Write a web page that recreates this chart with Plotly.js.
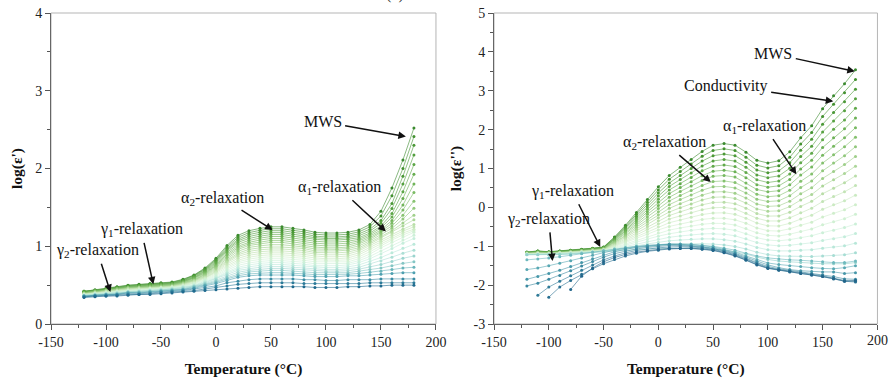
<!DOCTYPE html>
<html>
<head>
<meta charset="utf-8">
<script src="https://cdn.plot.ly/plotly-3.0.1.min.js"></script>
<style>html,body{margin:0;padding:0;background:#fff;}#chart{width:889px;height:379px;}</style>
</head>
<body>
<div id="chart"></div>
<script>
// Temperatures (°C)
const temps = [-120,-110,-100,-90,-80,-70,-60,-50,-40,-30,-20,-10,0,10,20,30,40,50,60,70,80,90,100,110,120,130,140,150,160,170,180];

// Tick labels
const xTickVals = [-150,-100,-50,0,50,100,150,200];
const xTickText = ['-150','-100','-50','0','50','100','150','200'];
const x2TickText = ['-150','-100','-50','0','50','100','150',''];
const x2LastTickLabel = '200';
const yLeftTickVals = [0,1,2,3,4];
const yLeftTickText = ['0','1','2','3','4'];
const yRightTickVals = [-3,-2,-1,0,1,2,3,4,5];
const yRightTickText = ['-3','-2','-1','0','1','2','3','4','5'];

// Left panel: log(eps') per frequency (lowest frequency first)
const L0   = [0.42,0.44,0.46,0.48,0.50,0.51,0.52,0.53,0.54,0.575,0.63,0.72,0.845,1.01,1.14,1.20,1.23,1.25,1.25,1.23,1.21,1.18,1.17,1.17,1.18,1.21,1.28,1.45,1.75,2.11,2.52];
const L0b  = [0.42,0.435,0.455,0.475,0.495,0.505,0.515,0.525,0.535,0.57,0.625,0.71,0.83,0.99,1.115,1.175,1.205,1.225,1.225,1.205,1.185,1.155,1.145,1.145,1.155,1.185,1.25,1.39,1.65,2.0,2.41];
const L1   = [0.42,0.43,0.45,0.47,0.49,0.50,0.51,0.52,0.53,0.56,0.62,0.70,0.82,0.97,1.09,1.15,1.18,1.20,1.20,1.18,1.16,1.13,1.12,1.12,1.13,1.16,1.22,1.33,1.55,1.90,2.30];
const L1b  = [0.415,0.43,0.45,0.465,0.485,0.495,0.505,0.515,0.525,0.555,0.61,0.69,0.805,0.955,1.07,1.125,1.155,1.175,1.175,1.155,1.135,1.11,1.10,1.10,1.11,1.135,1.195,1.295,1.485,1.80,2.175];
const L2   = [0.41,0.43,0.45,0.46,0.48,0.49,0.50,0.51,0.52,0.55,0.60,0.68,0.79,0.94,1.05,1.10,1.13,1.15,1.15,1.13,1.11,1.09,1.08,1.08,1.09,1.11,1.17,1.26,1.42,1.70,2.05];
const L2b  = [0.405,0.425,0.445,0.46,0.475,0.485,0.495,0.505,0.515,0.545,0.595,0.67,0.775,0.92,1.025,1.075,1.105,1.125,1.125,1.105,1.085,1.065,1.055,1.055,1.065,1.09,1.15,1.235,1.375,1.615,1.925];
const L3   = [0.40,0.42,0.44,0.46,0.47,0.48,0.49,0.50,0.51,0.54,0.59,0.66,0.76,0.90,1.00,1.05,1.08,1.10,1.10,1.08,1.06,1.04,1.03,1.03,1.04,1.07,1.13,1.21,1.33,1.53,1.80];
const L3b  = [0.40,0.42,0.435,0.455,0.47,0.475,0.485,0.495,0.505,0.535,0.58,0.65,0.75,0.88,0.98,1.03,1.055,1.075,1.075,1.055,1.035,1.015,1.005,1.005,1.015,1.05,1.11,1.19,1.295,1.465,1.69];
const L4   = [0.40,0.42,0.43,0.45,0.47,0.47,0.48,0.49,0.50,0.53,0.57,0.64,0.74,0.86,0.96,1.01,1.03,1.05,1.05,1.03,1.01,0.99,0.98,0.98,0.99,1.03,1.09,1.17,1.26,1.40,1.58];
const L4b  = [0.395,0.415,0.43,0.445,0.465,0.47,0.475,0.485,0.495,0.525,0.565,0.63,0.725,0.84,0.935,0.985,1.005,1.02,1.02,1.005,0.99,0.965,0.96,0.96,0.97,1.005,1.07,1.15,1.23,1.35,1.49];
const L5   = [0.39,0.41,0.43,0.44,0.46,0.47,0.47,0.48,0.49,0.52,0.56,0.62,0.71,0.82,0.91,0.96,0.98,0.99,0.99,0.98,0.97,0.94,0.94,0.94,0.95,0.98,1.05,1.13,1.20,1.30,1.40];
const L5b  = [0.39,0.405,0.425,0.435,0.455,0.465,0.465,0.475,0.485,0.515,0.555,0.61,0.695,0.805,0.89,0.935,0.955,0.965,0.965,0.955,0.945,0.92,0.915,0.915,0.925,0.96,1.03,1.11,1.18,1.26,1.34];
const L6   = [0.39,0.40,0.42,0.43,0.45,0.46,0.46,0.47,0.48,0.51,0.55,0.60,0.68,0.79,0.87,0.91,0.93,0.94,0.94,0.93,0.92,0.90,0.89,0.89,0.90,0.94,1.01,1.09,1.16,1.22,1.28];
const L6b  = [0.385,0.40,0.415,0.425,0.445,0.455,0.46,0.47,0.48,0.505,0.54,0.595,0.67,0.77,0.845,0.885,0.905,0.915,0.915,0.905,0.895,0.875,0.865,0.865,0.875,0.915,0.985,1.065,1.135,1.195,1.25];
const L7   = [0.38,0.40,0.41,0.42,0.44,0.45,0.46,0.47,0.48,0.50,0.53,0.59,0.66,0.75,0.82,0.86,0.88,0.89,0.89,0.88,0.87,0.85,0.84,0.84,0.85,0.89,0.96,1.04,1.11,1.17,1.22];
const L7b  = [0.38,0.395,0.405,0.42,0.435,0.445,0.455,0.465,0.475,0.495,0.525,0.58,0.645,0.73,0.80,0.835,0.855,0.865,0.865,0.855,0.845,0.825,0.82,0.82,0.825,0.865,0.93,1.01,1.08,1.145,1.20];
const L8   = [0.38,0.39,0.40,0.42,0.43,0.44,0.45,0.46,0.47,0.49,0.52,0.57,0.63,0.71,0.78,0.81,0.83,0.84,0.84,0.83,0.82,0.80,0.80,0.80,0.80,0.84,0.90,0.98,1.05,1.12,1.18];
const L8b  = [0.375,0.39,0.40,0.415,0.425,0.435,0.445,0.455,0.465,0.485,0.51,0.56,0.615,0.69,0.755,0.785,0.805,0.815,0.815,0.805,0.795,0.775,0.775,0.775,0.78,0.815,0.87,0.94,1.01,1.08,1.14];
const L9   = [0.37,0.39,0.40,0.41,0.42,0.43,0.44,0.45,0.46,0.48,0.50,0.55,0.60,0.67,0.73,0.76,0.78,0.79,0.79,0.78,0.77,0.75,0.75,0.75,0.76,0.79,0.84,0.90,0.97,1.04,1.10];
const L9b  = [0.37,0.385,0.395,0.405,0.415,0.425,0.435,0.445,0.455,0.475,0.495,0.54,0.59,0.655,0.71,0.735,0.755,0.765,0.765,0.755,0.745,0.73,0.725,0.725,0.735,0.76,0.805,0.855,0.915,0.975,1.025];
const L10  = [0.37,0.38,0.39,0.40,0.41,0.42,0.43,0.44,0.45,0.47,0.49,0.53,0.58,0.64,0.69,0.71,0.73,0.74,0.74,0.73,0.72,0.71,0.70,0.70,0.71,0.73,0.77,0.81,0.86,0.91,0.95];
const L10b = [0.365,0.375,0.385,0.395,0.41,0.415,0.425,0.435,0.445,0.46,0.485,0.52,0.565,0.62,0.665,0.69,0.705,0.715,0.715,0.705,0.695,0.685,0.68,0.68,0.685,0.705,0.735,0.765,0.805,0.845,0.875];
const L11  = [0.36,0.37,0.38,0.39,0.41,0.41,0.42,0.43,0.44,0.45,0.48,0.51,0.55,0.60,0.64,0.67,0.68,0.69,0.69,0.68,0.67,0.66,0.66,0.66,0.66,0.68,0.70,0.72,0.75,0.78,0.80];
const L11b = [0.36,0.37,0.38,0.385,0.405,0.405,0.415,0.425,0.435,0.445,0.47,0.50,0.535,0.58,0.62,0.645,0.655,0.66,0.66,0.655,0.645,0.635,0.635,0.635,0.64,0.65,0.665,0.68,0.70,0.72,0.73];
const L12  = [0.36,0.37,0.38,0.38,0.40,0.40,0.41,0.42,0.43,0.44,0.46,0.49,0.52,0.56,0.60,0.62,0.63,0.63,0.63,0.63,0.62,0.61,0.61,0.61,0.62,0.62,0.63,0.64,0.65,0.66,0.66];
const L13  = [0.35,0.36,0.37,0.38,0.39,0.39,0.40,0.41,0.42,0.43,0.45,0.47,0.49,0.53,0.55,0.57,0.58,0.58,0.58,0.58,0.57,0.57,0.56,0.56,0.57,0.57,0.57,0.58,0.58,0.58,0.58];
const L14  = [0.35,0.36,0.36,0.37,0.38,0.38,0.39,0.40,0.41,0.42,0.43,0.45,0.47,0.49,0.51,0.52,0.53,0.53,0.53,0.53,0.52,0.52,0.52,0.52,0.52,0.52,0.53,0.53,0.53,0.53,0.53];
const L15  = [0.34,0.35,0.36,0.36,0.37,0.38,0.38,0.39,0.40,0.41,0.42,0.43,0.44,0.45,0.46,0.47,0.48,0.48,0.48,0.48,0.48,0.47,0.47,0.47,0.48,0.48,0.49,0.49,0.50,0.50,0.50];

// Right panel: log(eps'') per frequency (lowest frequency first)
const R0   = [-1.15,-1.12,-1.14,-1.12,-1.10,-1.08,-1.05,-1.02,-0.76,-0.46,-0.13,0.20,0.53,0.82,1.03,1.23,1.44,1.60,1.64,1.60,1.42,1.21,1.14,1.20,1.43,1.79,2.10,2.54,2.87,3.18,3.54];
const R0b  = [-1.155,-1.125,-1.145,-1.125,-1.105,-1.085,-1.055,-1.025,-0.78,-0.49,-0.18,0.135,0.45,0.725,0.925,1.115,1.315,1.465,1.505,1.465,1.29,1.085,1.015,1.07,1.29,1.63,1.925,2.34,2.655,2.95,3.29];
const R1   = [-1.16,-1.13,-1.15,-1.13,-1.11,-1.09,-1.06,-1.03,-0.80,-0.52,-0.23,0.07,0.37,0.63,0.82,1.00,1.19,1.33,1.37,1.33,1.16,0.96,0.89,0.94,1.15,1.47,1.75,2.14,2.44,2.72,3.04];
const R1b  = [-1.16,-1.135,-1.155,-1.135,-1.115,-1.095,-1.065,-1.035,-0.815,-0.555,-0.275,0.01,0.29,0.54,0.715,0.885,1.065,1.195,1.23,1.19,1.03,0.835,0.765,0.81,1.005,1.31,1.57,1.94,2.225,2.485,2.795];
const R2   = [-1.16,-1.14,-1.16,-1.14,-1.12,-1.10,-1.07,-1.04,-0.83,-0.59,-0.32,-0.05,0.21,0.45,0.61,0.77,0.94,1.06,1.09,1.05,0.90,0.71,0.64,0.68,0.86,1.15,1.39,1.74,2.01,2.25,2.55];
const R2b  = [-1.165,-1.145,-1.16,-1.145,-1.125,-1.105,-1.075,-1.05,-0.85,-0.62,-0.37,-0.115,0.13,0.355,0.51,0.66,0.815,0.93,0.955,0.915,0.765,0.585,0.52,0.555,0.72,0.99,1.215,1.54,1.79,2.02,2.30];
const R3   = [-1.17,-1.15,-1.16,-1.15,-1.13,-1.11,-1.08,-1.06,-0.87,-0.65,-0.42,-0.18,0.05,0.26,0.41,0.55,0.69,0.80,0.82,0.78,0.63,0.46,0.40,0.43,0.58,0.83,1.04,1.34,1.57,1.79,2.05];
const R3b  = [-1.175,-1.155,-1.165,-1.155,-1.135,-1.115,-1.085,-1.065,-0.885,-0.685,-0.465,-0.245,-0.03,0.165,0.305,0.435,0.565,0.665,0.68,0.64,0.50,0.335,0.275,0.30,0.44,0.67,0.86,1.14,1.355,1.56,1.805];
const R4   = [-1.18,-1.16,-1.17,-1.16,-1.14,-1.12,-1.09,-1.07,-0.90,-0.72,-0.51,-0.31,-0.11,0.07,0.20,0.32,0.44,0.53,0.54,0.50,0.37,0.21,0.15,0.17,0.30,0.51,0.68,0.94,1.14,1.33,1.56];
const R4b  = [-1.185,-1.165,-1.175,-1.165,-1.145,-1.125,-1.10,-1.075,-0.92,-0.75,-0.56,-0.375,-0.19,-0.025,0.095,0.205,0.315,0.395,0.405,0.365,0.24,0.085,0.025,0.04,0.16,0.35,0.505,0.745,0.925,1.10,1.31];
const R5   = [-1.19,-1.17,-1.18,-1.17,-1.15,-1.13,-1.11,-1.08,-0.94,-0.78,-0.61,-0.44,-0.27,-0.12,-0.01,0.09,0.19,0.26,0.27,0.23,0.11,-0.04,-0.10,-0.09,0.02,0.19,0.33,0.55,0.71,0.87,1.06];
const R5b  = [-1.19,-1.175,-1.185,-1.17,-1.155,-1.135,-1.115,-1.085,-0.96,-0.81,-0.655,-0.50,-0.345,-0.21,-0.115,-0.025,0.065,0.125,0.135,0.095,-0.02,-0.16,-0.225,-0.22,-0.125,0.025,0.155,0.35,0.495,0.635,0.81];
const R6   = [-1.19,-1.18,-1.19,-1.17,-1.16,-1.14,-1.12,-1.09,-0.98,-0.84,-0.70,-0.56,-0.42,-0.30,-0.22,-0.14,-0.06,-0.01,0.00,-0.04,-0.15,-0.28,-0.35,-0.35,-0.27,-0.14,-0.02,0.15,0.28,0.40,0.56];
const R6b  = [-1.195,-1.185,-1.195,-1.175,-1.165,-1.145,-1.125,-1.095,-0.995,-0.875,-0.75,-0.625,-0.50,-0.395,-0.325,-0.255,-0.185,-0.145,-0.14,-0.18,-0.28,-0.405,-0.475,-0.48,-0.41,-0.30,-0.20,-0.05,0.065,0.17,0.315];
const R7   = [-1.20,-1.19,-1.20,-1.18,-1.17,-1.15,-1.13,-1.10,-1.01,-0.91,-0.80,-0.69,-0.58,-0.49,-0.43,-0.37,-0.31,-0.28,-0.28,-0.32,-0.41,-0.53,-0.60,-0.61,-0.55,-0.46,-0.38,-0.25,-0.15,-0.06,0.07];
const R7b  = [-1.205,-1.195,-1.20,-1.185,-1.175,-1.155,-1.135,-1.11,-1.03,-0.94,-0.845,-0.755,-0.66,-0.585,-0.53,-0.48,-0.435,-0.41,-0.415,-0.455,-0.545,-0.655,-0.72,-0.735,-0.69,-0.62,-0.555,-0.45,-0.37,-0.29,-0.18];
const R8   = [-1.21,-1.20,-1.20,-1.19,-1.18,-1.16,-1.14,-1.12,-1.05,-0.97,-0.89,-0.82,-0.74,-0.68,-0.63,-0.59,-0.56,-0.54,-0.55,-0.59,-0.68,-0.78,-0.84,-0.86,-0.83,-0.78,-0.73,-0.65,-0.59,-0.52,-0.43];
const R8b  = [-1.21,-1.205,-1.205,-1.195,-1.185,-1.165,-1.145,-1.125,-1.065,-1.005,-0.94,-0.88,-0.82,-0.77,-0.735,-0.705,-0.685,-0.675,-0.69,-0.73,-0.81,-0.905,-0.965,-0.99,-0.975,-0.94,-0.91,-0.85,-0.805,-0.755,-0.675];
const R9   = [-1.21,-1.21,-1.21,-1.20,-1.19,-1.17,-1.15,-1.13,-1.08,-1.04,-0.99,-0.94,-0.90,-0.86,-0.84,-0.82,-0.81,-0.81,-0.83,-0.87,-0.94,-1.03,-1.09,-1.12,-1.12,-1.10,-1.09,-1.05,-1.02,-0.99,-0.92];
const R9b  = [-1.215,-1.215,-1.215,-1.205,-1.195,-1.175,-1.155,-1.135,-1.10,-1.07,-1.035,-1.005,-0.98,-0.955,-0.945,-0.935,-0.935,-0.945,-0.965,-1.005,-1.07,-1.155,-1.215,-1.25,-1.26,-1.26,-1.265,-1.25,-1.235,-1.22,-1.17];
const R10  = [-1.22,-1.22,-1.22,-1.21,-1.20,-1.18,-1.16,-1.14,-1.12,-1.10,-1.08,-1.07,-1.06,-1.05,-1.05,-1.05,-1.06,-1.08,-1.10,-1.14,-1.20,-1.28,-1.34,-1.38,-1.40,-1.42,-1.44,-1.45,-1.45,-1.45,-1.42];
const R11  = [-1.35,-1.33,-1.30,-1.27,-1.23,-1.19,-1.15,-1.11,-1.07,-1.03,-1.00,-0.98,-0.96,-0.95,-0.95,-0.96,-0.98,-1.00,-1.05,-1.10,-1.18,-1.25,-1.30,-1.33,-1.35,-1.36,-1.38,-1.40,-1.42,-1.42,-1.38];
const R12  = [-1.60,-1.56,-1.50,-1.44,-1.37,-1.30,-1.23,-1.16,-1.10,-1.05,-1.01,-0.98,-0.96,-0.94,-0.94,-0.95,-0.98,-1.02,-1.08,-1.15,-1.25,-1.35,-1.43,-1.47,-1.50,-1.52,-1.55,-1.57,-1.58,-1.55,-1.50];
const R13  = [-1.85,-1.78,-1.70,-1.62,-1.52,-1.42,-1.32,-1.22,-1.14,-1.08,-1.03,-1.00,-0.97,-0.95,-0.96,-0.98,-1.01,-1.05,-1.10,-1.18,-1.28,-1.39,-1.48,-1.55,-1.60,-1.63,-1.65,-1.66,-1.66,-1.70,-1.68];
const R14  = [-2.02,-1.95,-1.85,-1.75,-1.63,-1.51,-1.39,-1.28,-1.19,-1.12,-1.07,-1.03,-1.00,-0.98,-0.98,-1.00,-1.02,-1.06,-1.12,-1.20,-1.30,-1.42,-1.52,-1.58,-1.62,-1.66,-1.70,-1.73,-1.78,-1.84,-1.85];
const R15  = [null,-2.26,-2.05,-1.90,-1.76,-1.62,-1.48,-1.35,-1.25,-1.17,-1.11,-1.07,-1.04,-1.02,-1.01,-1.02,-1.04,-1.08,-1.14,-1.22,-1.33,-1.45,-1.55,-1.60,-1.64,-1.68,-1.72,-1.76,-1.82,-1.88,-1.90];
const R16  = [null,null,-2.31,-2.05,-1.88,-1.72,-1.58,-1.45,-1.34,-1.25,-1.18,-1.13,-1.10,-1.07,-1.06,-1.06,-1.08,-1.11,-1.17,-1.25,-1.36,-1.48,-1.57,-1.62,-1.66,-1.70,-1.74,-1.78,-1.84,-1.90,-1.92];
const R17  = [null,null,null,null,-2.11,-1.77,-1.56,-1.40,-1.29,-1.21,-1.15,-1.11,-1.08,-1.06,-1.05,-1.05,-1.07,-1.10,-1.16,-1.24,-1.35,-1.47,-1.56,-1.61,-1.65,-1.70,-1.74,-1.78,-1.83,-1.90,-1.88];

const leftSeries  = [L0,L0b,L1,L1b,L2,L2b,L3,L3b,L4,L4b,L5,L5b,L6,L6b,L7,L7b,L8,L8b,L9,L9b,L10,L10b,L11,L11b,L12,L13,L14,L15];
const rightSeries = [R0,R0b,R1,R1b,R2,R2b,R3,R3b,R4,R4b,R5,R5b,R6,R6b,R7,R7b,R8,R8b,R9,R9b,R10,R11,R12,R13,R14,R15,R16,R17];

// Styles (one colour per series, dark green -> mint -> teal -> blue)
const leftColors  = ['#3a8a2e','#42912f','#4a9836','#539f3e','#5ca646','#66ad4f','#70b459','#7bbb64','#87c270','#93c97d','#a0d08b','#acd799',
                     '#b8dea7','#c2e4b4','#caeac0','#cfeecb','#d0f0d3','#cdf0d8','#c6eedb','#bbe9da','#acdfd5','#9ad4ce',
                     '#84c6c4','#68b4ba','#4ea0b0','#3a8ca4','#2b7a98','#1f6a8e'];
const rightColors = ['#3a8a2e','#43922f','#4c9937','#56a140','#60a94a','#6bb155','#77b961','#84c16e','#91c87c','#9fcf8a','#acd699',
                     '#b9dda8','#c3e4b6','#cbeac2','#d0eecc','#d0f0d3','#ccf0d8','#c4eddb','#b8e7d9','#a7ddd4','#92d0cb',
                     '#6db9bd','#58a8b3','#4697a9','#3a88a0','#307b98','#286f91','#22658a'];

const serif = 'Liberation Serif, Times New Roman, serif';
const traces = [];
leftSeries.forEach((s, i) => {
  traces.push({x: temps, y: s, type: 'scatter', mode: 'lines+markers', xaxis: 'x', yaxis: 'y',
    line: {color: leftColors[i], width: 0.6}, marker: {size: 3, color: leftColors[i]},
    showlegend: false, hoverinfo: 'skip'});
});
rightSeries.forEach((s, i) => {
  traces.push({x: temps, y: s, type: 'scatter', mode: 'lines+markers', xaxis: 'x2', yaxis: 'y2',
    line: {color: rightColors[i], width: 0.6}, marker: {size: 3, color: rightColors[i]},
    showlegend: false, hoverinfo: 'skip', connectgaps: false});
});

const tickFont = {family: serif, size: 14, color: '#222'};
function xAxis(domain, anchor, texts) {
  return {domain: domain, anchor: anchor, range: [-150, 200.05],
    tickmode: 'array', tickvals: xTickVals, ticktext: texts, ticklabeloverflow: 'allow',
    ticks: 'outside', ticklen: 5, tickcolor: '#555', tickwidth: 1,
    showline: true, linecolor: '#666', linewidth: 1, mirror: false,
    showgrid: false, zeroline: false,
    tickfont: tickFont,
    minor: {tickmode: 'linear', tick0: -150, dtick: 25, ticks: 'outside', ticklen: 3, tickcolor: '#555', showgrid: false},
    title: {text: '<b>Temperature (°C)</b>', font: {family: serif, size: 15.5, color: '#111'}, standoff: 14}};
}
function yAxis(range, anchor, title, vals, texts) {
  return {domain: [0, 1], anchor: anchor, range: range,
    tickmode: 'array', tickvals: vals, ticktext: texts, ticklabeloverflow: 'allow',
    ticks: 'outside', ticklen: 5, tickcolor: '#555', tickwidth: 1,
    showline: true, linecolor: '#666', linewidth: 1, mirror: false,
    showgrid: false, zeroline: false,
    tickfont: tickFont,
    minor: {tickmode: 'linear', tick0: 0, dtick: 0.5, ticks: 'outside', ticklen: 3, tickcolor: '#555', showgrid: false},
    title: {text: '<b>' + title + '</b>', font: {family: serif, size: 15.5, color: '#111'}, standoff: 8}};
}

const txtFont = {family: serif, size: 16, color: '#111'};
// Label text centred at (tx, ty) with an arrow pointing to (hx, hy)
function callout(xr, yr, tx, ty, hx, hy, text) {
  return {xref: xr, yref: yr, axref: xr, ayref: yr, ax: tx, ay: ty, x: hx, y: hy, text: text,
    font: txtFont, showarrow: true, arrowhead: 2, arrowsize: 1, arrowwidth: 1.5, arrowcolor: '#111',
    standoff: 0, startstandoff: 2};
}

const annotations = [
  callout('x','y', 97, 2.60, 172.7, 2.41, 'MWS'),
  callout('x','y', 112, 1.75, 154.5, 1.19, 'α<sub>1</sub>-relaxation'),
  callout('x','y', 6, 1.62, 51.5, 1.21, 'α<sub>2</sub>-relaxation'),
  callout('x','y', -68, 1.21, -57, 0.51, 'γ<sub>1</sub>-relaxation'),
  callout('x','y', -108, 0.94, -96, 0.41, 'γ<sub>2</sub>-relaxation'),

  callout('x2','y2', 105, 3.95, 179.4, 3.50, 'MWS'),
  callout('x2','y2', 61.5, 3.13, 159.7, 2.73, 'Conductivity'),
  callout('x2','y2', 97, 2.08, 126, 0.85, 'α<sub>1</sub>-relaxation'),
  callout('x2','y2', 6, 1.66, 47.9, 0.65, 'α<sub>2</sub>-relaxation'),
  callout('x2','y2', -78.5, 0.41, -53, -1.02, 'γ<sub>1</sub>-relaxation'),
  callout('x2','y2', -100, -0.31, -96.6, -1.38, 'γ<sub>2</sub>-relaxation'),

  // last tick label of the right x axis (drawn here so it is not dropped at the page edge)
  {xref: 'x2', yref: 'paper', x: 200, y: 0, yanchor: 'top', xanchor: 'center', yshift: -7,
   text: x2LastTickLabel, showarrow: false, font: tickFont},

  {xref: 'paper', yref: 'paper', x: 0.444, y: 1.027, text: '(a)', showarrow: false,
   font: {family: serif, size: 16, color: '#333'}, xanchor: 'center', yanchor: 'bottom'}
];

const shapes = [
  {type: 'rect', xref: 'x domain', yref: 'y domain', x0: 0, x1: 1, y0: 0, y1: 1, line: {color: '#b5b5b5', width: 1}, layer: 'below'},
  {type: 'rect', xref: 'x2 domain', yref: 'y2 domain', x0: 0, x1: 1, y0: 0, y1: 1, line: {color: '#b5b5b5', width: 1}, layer: 'below'}
];

const layout = {
  width: 889, height: 379,
  margin: {l: 0, r: 0, t: 13, b: 55},
  paper_bgcolor: '#fff', plot_bgcolor: '#fff',
  xaxis: xAxis([0.0574, 0.4904], 'y', xTickText),
  yaxis: yAxis([0, 4], 'x', "log(ε')", yLeftTickVals, yLeftTickText),
  xaxis2: xAxis([0.5557, 0.9870], 'y2', x2TickText),
  yaxis2: yAxis([-3, 5], 'x2', "log(ε'')", yRightTickVals, yRightTickText),
  annotations: annotations,
  shapes: shapes,
  showlegend: false
};

Plotly.newPlot('chart', traces, layout, {displayModeBar: false, staticPlot: true});
</script>
</body>
</html>
